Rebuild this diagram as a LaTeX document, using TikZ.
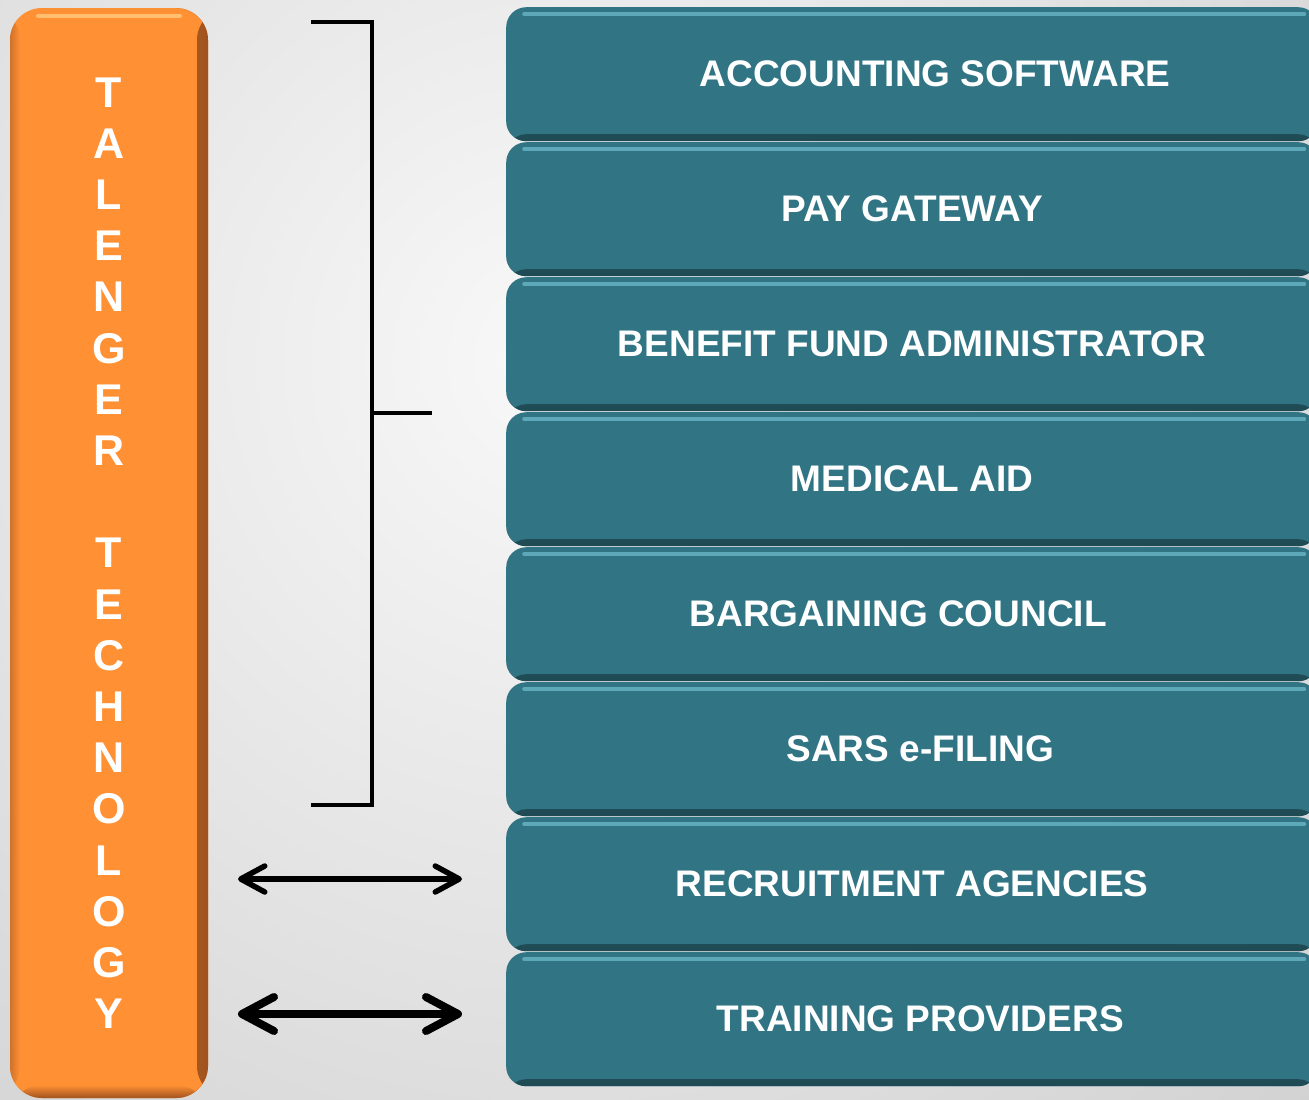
\documentclass[tikz,border=0pt]{standalone}
\usepackage{fontspec}
\setmainfont{Liberation Sans}
\usetikzlibrary{arrows.meta}

\definecolor{orangemain}{HTML}{FF9034}
\definecolor{orangedark}{HTML}{A0531F}
\definecolor{orangelight}{HTML}{FFBE70}
\definecolor{tealmain}{HTML}{317585}
\definecolor{tealdark}{HTML}{1F4A54}
\definecolor{teallight}{HTML}{5EA9B9}

\tikzset{
  tealbox/.style={rectangle, rounded corners=20pt, fill=tealmain, anchor=north west,
    minimum width=812pt, minimum height=134pt, inner sep=0pt, text=white,
    font=\bfseries\fontsize{37}{37}\selectfont,
    path picture={
      \shade[top color=tealmain, bottom color=tealdark]
        ([yshift=7pt]path picture bounding box.south west) rectangle (path picture bounding box.south east);
      \draw[teallight, line width=4pt, line cap=round]
        ([xshift=18pt,yshift=-7pt]path picture bounding box.north west) -- ([xshift=-14pt,yshift=-7pt]path picture bounding box.north east);
    }},
  shifttext/.style={execute at begin node={\hspace*{#1}}},
  orangebox/.style={rectangle, rounded corners=32pt, fill=orangemain,
    minimum width=198pt, minimum height=1090pt, inner sep=0pt, text=white,
    align=center, font=\bfseries\fontsize{43}{51.2}\selectfont,
    path picture={
      \shade[left color=orangemain, right color=orangedark]
        ([xshift=-11pt]path picture bounding box.north east) rectangle (path picture bounding box.south east);
      \shade[left color=orangedark!50!orangemain, right color=orangemain]
        (path picture bounding box.north west) rectangle ([xshift=10pt]path picture bounding box.south west);
      \shade[top color=orangemain, bottom color=orangedark]
        ([yshift=13pt]path picture bounding box.south west) rectangle (path picture bounding box.south east);
      \draw[orangelight, line width=4pt, line cap=round]
        ([xshift=28pt,yshift=-8pt]path picture bounding box.north west) -- ([xshift=-28pt,yshift=-8pt]path picture bounding box.north east);
    }},
  bracket/.style={line width=4.5pt, black},
  thinarrow/.style={{Straight Barb[length=24pt,width=26pt,round]}-{Straight Barb[length=24pt,width=26pt,round]}, line width=5.5pt, line cap=round},
  thickarrow/.style={{Straight Barb[length=32pt,width=34pt,round]}-{Straight Barb[length=32pt,width=34pt,round]}, line width=8pt, line cap=round}
}

\begin{document}
\begin{tikzpicture}[x=1pt,y=-1pt]
  \useasboundingbox (0,0) rectangle (1309,1100);
  % background
  \fill[gray!48] (0,0) rectangle (1309,1100);
  \begin{scope}
    \clip (0,0) rectangle (1309,1100);
    \shade[inner color=gray!5, outer color=gray!48] (560,360) circle (1500);
  \end{scope}

  \node[orangebox] (tal) at (109,553) {T\\A\\L\\E\\N\\G\\E\\R\\[51.2pt]T\\E\\C\\H\\N\\O\\L\\O\\G\\Y};

  \node[tealbox, shifttext=46pt] (acc) at (506,7) {ACCOUNTING SOFTWARE};
  \node[tealbox] (pay) at (506,142) {PAY GATEWAY};
  \node[tealbox] (ben) at (506,277) {BENEFIT FUND ADMINISTRATOR};
  \node[tealbox] (med) at (506,412) {MEDICAL AID};
  \node[tealbox, shifttext=-28pt] (bar) at (506,547) {BARGAINING COUNCIL};
  \node[tealbox, shifttext=16pt] (sars) at (506,682) {SARS e-FILING};
  \node[tealbox] (rec) at (506,817) {RECRUITMENT AGENCIES};
  \node[tealbox, shifttext=16pt] (trn) at (506,952) {TRAINING PROVIDERS};

  % bracket
  \coordinate (brtop) at (311,22);
  \coordinate (brbot) at (311,805);
  \coordinate (brmid) at (372,413);
  \coordinate (brtip) at (432,413);
  \draw[bracket] (brtop) -- (372,22) -- (372,805) -- (brbot);
  \draw[bracket] (brmid) -- (brtip);

  % arrows
  \coordinate (recl) at (238,879);
  \coordinate (recr) at (462,879);
  \coordinate (trnl) at (238,1014);
  \coordinate (trnr) at (462,1014);
  \draw[thinarrow] (recl) -- (recr);
  \draw[thickarrow] (trnl) -- (trnr);
\end{tikzpicture}
\end{document}
